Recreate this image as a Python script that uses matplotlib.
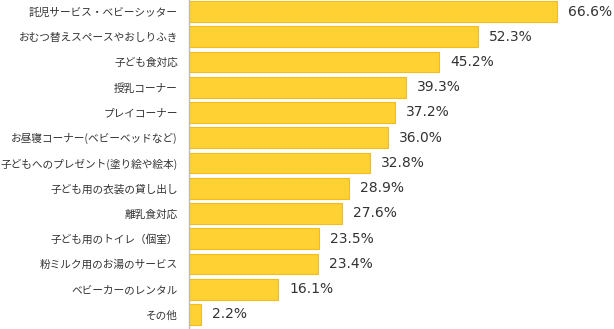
import matplotlib
matplotlib.use("Agg")
import matplotlib.pyplot as plt

plt.rcParams['font.family'] = ['Noto Sans CJK JP', 'DejaVu Sans']

categories = [
    "託児サービス・ベビーシッター",
    "おむつ替えスペースやおしりふき",
    "子ども食対応",
    "授乳コーナー",
    "プレイコーナー",
    "お昼寝コーナー(ベビーベッドなど)",
    "子どもへのプレゼント(塗り絵や絵本)",
    "子ども用の衣装の貸し出し",
    "離乳食対応",
    "子ども用のトイレ（個室）",
    "粉ミルク用のお湯のサービス",
    "ベビーカーのレンタル",
    "その他",
]
values = [66.6, 52.3, 45.2, 39.3, 37.2, 36.0, 32.8, 28.9, 27.6, 23.5, 23.4, 16.1, 2.2]
value_labels = ["66.6%", "52.3%", "45.2%", "39.3%", "37.2%", "36.0%", "32.8%",
                "28.9%", "27.6%", "23.5%", "23.4%", "16.1%", "2.2%"]

W, H = 614, 329
fig = plt.figure(figsize=(W/100, H/100), dpi=100)
left_px = 189
ax = fig.add_axes([left_px/W, 0, 1 - left_px/W, 1])

pos = list(range(len(categories)))
ax.barh(pos, values, height=0.82, color="#FFD133", edgecolor="#F2BC1A", linewidth=0.8)

px_per_unit = 5.53
ax.set_xlim(0, (W - left_px) / px_per_unit)
pitch = 25.25
top_c = 11.5
ax.set_ylim((H - top_c) / pitch, -top_c / pitch)

for p, v, lab in zip(pos, values, value_labels):
    ax.text(v + 11/px_per_unit, p, lab, va="center", ha="left", fontsize=10,
            color="#333333", family=['DejaVu Sans'])

ax.set_yticks(pos)
ax.set_yticklabels(categories, fontsize=7.7, color="#333333")
ax.tick_params(axis='y', length=0, pad=8)
ax.set_xticks([])
for s in ["top", "right", "bottom"]:
    ax.spines[s].set_visible(False)
ax.spines["left"].set_color("#BBBBBB")
ax.spines["left"].set_linewidth(1.0)

fig.savefig("out.png", dpi=100)
